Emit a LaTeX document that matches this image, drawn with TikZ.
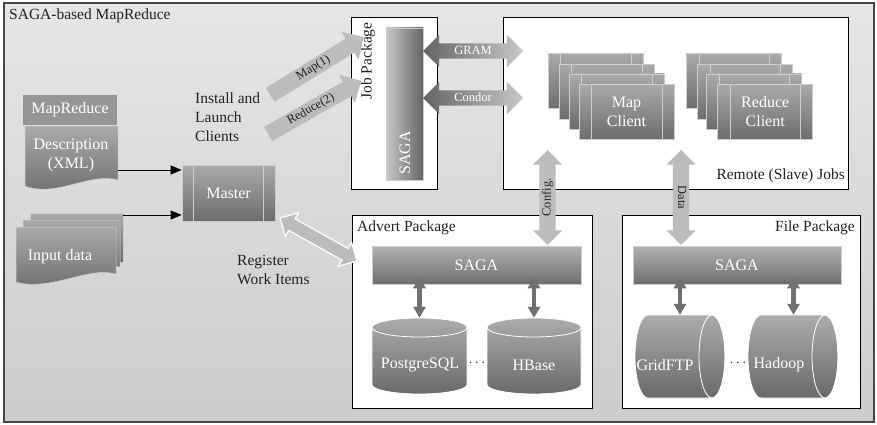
\documentclass[tikz,border=0pt]{standalone}
\usepackage{fontspec}
\setmainfont{Liberation Serif}
\usetikzlibrary{shapes.arrows,arrows.meta,calc}
\definecolor{bgT}{RGB}{230,230,230}
\definecolor{bgB}{RGB}{204,204,204}
\definecolor{frameC}{RGB}{70,70,70}
\definecolor{pT}{RGB}{170,170,170}
\definecolor{pB}{RGB}{108,108,108}
\definecolor{barT}{RGB}{178,178,178}
\definecolor{barB}{RGB}{110,110,110}
\definecolor{lineC}{RGB}{205,205,205}
\definecolor{arrL}{RGB}{188,188,188}
\definecolor{darkA}{RGB}{112,112,112}
\definecolor{txtC}{RGB}{38,33,30}
\definecolor{protoL}{RGB}{100,100,100}
\definecolor{protoR}{RGB}{200,200,200}
\definecolor{cT}{RGB}{172,172,172}
\definecolor{cB}{RGB}{105,105,105}
\definecolor{hdrC}{RGB}{150,150,150}
\newcommand\lblfont{\fontsize{15.5}{19}\selectfont}
\newcommand\wfont{\fontsize{16}{19}\selectfont}
\newcommand\sfont{\fontsize{12.5}{14}\selectfont}
\newcommand\proclines[1]{\draw[lineC,line width=0.6pt] ([xshift=12.5pt]#1.north west) -- ([xshift=12.5pt]#1.south west) ([xshift=-12.5pt]#1.north east) -- ([xshift=-12.5pt]#1.south east);}
\newcommand\vcyl[5]{%
 \shade[top color=cT,bottom color=cB,draw=white,line width=0.8pt] (#1,#2+9.5) -- (#1,#4-9.5) arc[start angle=180,end angle=360,x radius=#5pt,y radius=9.5pt] -- (#3,#2+9.5) arc[start angle=0,end angle=180,x radius=#5pt,y radius=9.5pt] -- cycle;
 \draw[white,line width=0.8pt] (#1,#2+9.5) arc[start angle=180,end angle=360,x radius=#5pt,y radius=9.5pt];}
\newcommand\hcyl[6]{%
 \shade[top color=cT,bottom color=cB,draw=white,line width=0.8pt] (#1+#5,#2) arc[start angle=90,end angle=270,x radius=#5pt,y radius=#6pt] -- (#3-#5,#4) arc[start angle=270,end angle=450,x radius=#5pt,y radius=#6pt] -- cycle;
 \draw[white,line width=0.8pt] ({#3-#5},{(#2+#4)/2}) ellipse [x radius=#5pt,y radius=#6pt];}
\begin{document}
\begin{tikzpicture}[x=1pt,y=-1pt,
 lbl/.style={text=txtC,font=\lblfont,inner sep=0pt},
 wtxt/.style={text=white,font=\wfont,inner sep=0pt,align=center},
 pkgbox/.style={draw=black,line width=0.9pt,fill=white,inner sep=0pt},
 graybar/.style={top color=barT,bottom color=barB,draw=lineC,line width=0.5pt,inner sep=0pt,text=white,font=\wfont},
 procbox/.style={top color=pT,bottom color=pB,draw=lineC,line width=0.6pt,minimum width=95pt,minimum height=55pt,inner sep=0pt,text=white,font=\wfont,align=center},
 launch/.style={single arrow,single arrow head extend=8pt,fill=arrL,text=txtC,font=\sfont,inner xsep=2pt,inner ysep=3pt,text height=8pt,text depth=2pt,anchor=tail},
 proto/.style={double arrow,double arrow head extend=8.5pt,left color=protoL,right color=protoR,text=white,font=\sfont,text height=7pt,text depth=0pt,inner ysep=4pt,minimum height=100pt},
 vlink/.style={double arrow,double arrow head extend=6.5pt,fill=arrL,text=txtC,font=\sfont,text height=8pt,text depth=2pt,inner ysep=3pt,minimum height=95pt},
 blackarr/.style={line width=0.9pt,draw=black,-{Triangle[length=11pt,width=9pt]}},
 smallarr/.style={line width=4.5pt,draw=darkA,{Triangle[length=11pt,width=12pt]}-{Triangle[length=11pt,width=12pt]}},
 docshape/.style={top color=pT,bottom color=pB,draw=lineC,line width=0.5pt},
 dotsty/.style={text=txtC,inner sep=0pt,font=\fontsize{15}{15}\selectfont}
]
\useasboundingbox (0,0) rectangle (877,425);
% background frame
\shade[top color=bgT,bottom color=bgB] (4,3) rectangle (874,422);
\draw[frameC,line width=1.2pt] (4,3) rectangle (874,422);
\node[lbl,anchor=west] (title) at (9,16) {SAGA-based MapReduce};

% package boxes
\node[pkgbox,minimum width=86pt,minimum height=172pt] (jobpkg) at (394,103) {};
\node[pkgbox,minimum width=345pt,minimum height=172pt] (remote) at (675.5,103) {};
\node[pkgbox,minimum width=240pt,minimum height=193pt] (advert) at (472,311.5) {};
\node[pkgbox,minimum width=238pt,minimum height=193pt] (filepkg) at (741,311.5) {};
\node[lbl,rotate=90] (joblbl) at (368,61) {Job Package};
\node[lbl,anchor=east] (remlbl) at (845,176) {Remote (Slave) Jobs};
\node[lbl,anchor=west] (advlbl) at (357,228) {Advert Package};
\node[lbl,anchor=east] (filelbl) at (855,228) {File Package};

% job SAGA bar
\node[left color=protoR,right color=protoL,draw=lineC,line width=0.5pt,minimum width=37pt,minimum height=152pt,inner sep=0pt] (jsaga) at (404.5,104) {};
\node[wtxt,rotate=90] (jsagal) at (405,153) {SAGA};

% map / reduce clients
\node[procbox] (mc1) at (595.8,80.8) {};\proclines{mc1}
\node[procbox] (mc2) at (606.5,91.8) {};\proclines{mc2}
\node[procbox] (mc3) at (616.8,101.5) {};\proclines{mc3}
\node[procbox] (mc4) at (626.5,111.8) {Map\\Client};\proclines{mc4}
\node[procbox] (rc1) at (734.2,80.8) {};\proclines{rc1}
\node[procbox] (rc2) at (745.2,91.8) {};\proclines{rc2}
\node[procbox] (rc3) at (754.2,101.5) {};\proclines{rc3}
\node[procbox] (rc4) at (765.2,111.8) {Reduce\\Client};\proclines{rc4}

% advert package content
\node[graybar,minimum width=209pt,minimum height=38pt] (asaga) at (476.5,265) {SAGA};
\vcyl{372}{318}{467}{394}{47.5}
\vcyl{487}{318}{581}{394}{47}
\node[inner sep=0pt,minimum width=95pt,minimum height=76pt] (pg) at (419.5,356) {};
\node[inner sep=0pt,minimum width=94pt,minimum height=76pt] (hb) at (534,356) {};
\node[wtxt] (pgl) at (420,365) {PostgreSQL};
\node[wtxt] (hbl) at (534,365) {HBase};
\node[dotsty] (dots1) at (477,363) {$\cdots$};
\draw[smallarr] ([yshift=7pt]asaga.south -| pg.north) -- (pg.north);
\draw[smallarr] ([yshift=7pt]asaga.south -| hb.north) -- (hb.north);

% file package content
\node[graybar,minimum width=208pt,minimum height=38pt] (fsaga) at (737,265) {SAGA};
\hcyl{635}{315}{725}{398}{13}{41.5}
\hcyl{748}{315}{838}{398}{13}{41.5}
\node[inner sep=0pt,minimum width=90pt,minimum height=83pt] (gf) at (680,356.5) {};
\node[inner sep=0pt,minimum width=90pt,minimum height=83pt] (hd) at (793.5,356.5) {};
\node[wtxt] (gfl) at (665,365) {GridFTP};
\node[wtxt] (hdl) at (779,365) {Hadoop};
\node[dotsty] (dots2) at (738,363) {$\cdots$};
\draw[smallarr] ([yshift=7pt]fsaga.south -| gf.north) -- (gf.north);
\draw[smallarr] ([yshift=7pt]fsaga.south -| hd.north) -- (hd.north);

% documents
\fill[hdrC] (23,95) rectangle (117,125);
\node[wtxt] (mrhdr) at (70,110) {MapReduce};
\shade[docshape] (25,126) -- (118,126) -- (118,180) .. controls (90,172) and (55,198) .. (25,186) -- cycle;
\node[wtxt] (desc) at (71,155) {Description\\(XML)};
\coordinate (descR) at (118,170);
\shade[docshape] (30,213) -- (123,213) -- (123,262) -- (30,262) -- cycle;
\shade[docshape] (23,220) -- (120,220) -- (120,267) .. controls (95,262) and (60,280) .. (23,275) -- cycle;
\shade[docshape] (16,227) -- (116,227) -- (116,274) .. controls (88,266) and (50,292) .. (16,282) -- cycle;
\node[wtxt] (inp) at (60,257) {Input data};
\coordinate (inR) at (123,215);

% master
\node[procbox,minimum width=93pt,minimum height=56pt] (master) at (228.5,193) {Master};
\draw[lineC,line width=0.6pt] ([xshift=12pt]master.north west) -- ([xshift=12pt]master.south west) ([xshift=-12pt]master.north east) -- ([xshift=-12pt]master.south east);
\draw[blackarr] (descR) -- (master.west |- descR);
\draw[blackarr] (inR) -- (master.west |- inR);

% labels
\node[lbl,align=left,anchor=west] (install) at (195,117) {Install and\\Launch\\Clients};
\node[lbl,align=left,anchor=west] (register) at (237,269.5) {Register\\Work Items};

% big arrows
\node[launch,rotate=31.7,minimum height=110pt] (maparr) at (270,95) {Map(1)};
\node[launch,rotate=29.7,minimum height=107pt] (redarr) at (268,134) {Reduce(2)};
\node[double arrow,double arrow head extend=7pt,fill=arrL,draw=white,line width=1.2pt,text height=6pt,text depth=0pt,inner ysep=3pt,minimum height=88pt,rotate=-29.2] (regarr) at (318.5,239.5) {};
\node[proto] (gram) at (473,51) {GRAM};
\node[proto] (condor) at (473,98) {Condor};
\node[vlink,rotate=90] (config) at (547.5,197.5) {Config.};
\node[vlink,rotate=-90] (data) at (681,197.5) {Data};
\end{tikzpicture}
\end{document}
